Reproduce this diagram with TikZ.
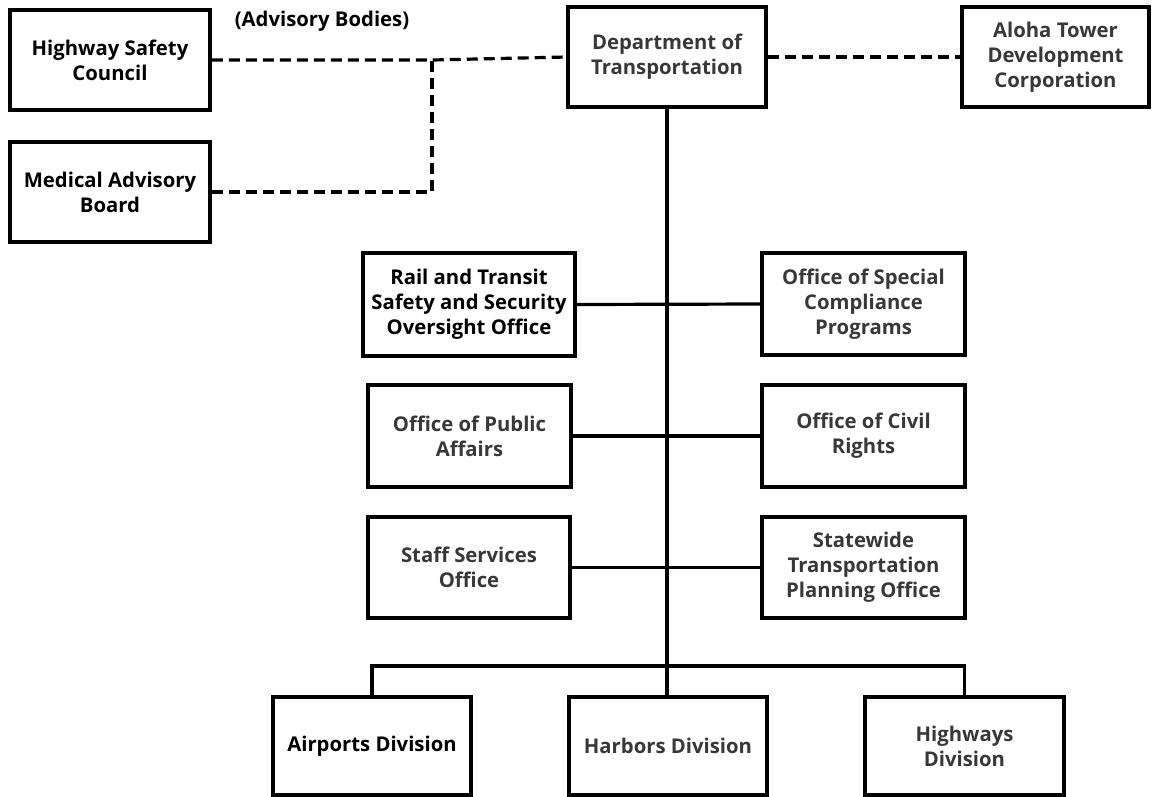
\documentclass[tikz,border=0pt]{standalone}
\usepackage{fontspec}
\setmainfont{Open Sans}
\begin{document}
\begin{tikzpicture}[x=1pt,y=-1pt,
  box/.style={draw=black, line width=3.5pt, rectangle, inner sep=0pt, align=center,
    font=\fontsize{20.3}{25}\selectfont\bfseries, text=black},
  greytext/.style={text=black!78},
  conn/.style={line width=3.2pt},
  dashconn/.style={line width=3.2pt, dash pattern=on 11pt off 6pt}]
\useasboundingbox (0,0) rectangle (1153,796);
\fill[white] (0,0) rectangle (1153,796);
% top row
\node[box, minimum width=200pt, minimum height=100pt] (hsc) at (110,60) {Highway Safety\\Council};
\node[box, minimum width=200pt, minimum height=100pt] (mab) at (110,192) {Medical Advisory\\Board};
\node[font=\fontsize{20.3}{25}\selectfont\bfseries, text=black] (adv) at (322,21) {(Advisory Bodies)};
\node[box, greytext, minimum width=198pt, minimum height=100pt] (dot) at (667,57) {Department of\\Transportation};
\node[box, greytext, minimum width=187pt, minimum height=100pt] (aloha) at (1055.5,57) {Aloha Tower\\Development\\Corporation};
% middle offices
\node[box, minimum width=212pt, minimum height=103pt] (rail) at (469,304.5) {Rail and Transit\\Safety and Security\\Oversight Office};
\node[box, greytext, minimum width=203pt, minimum height=102pt] (oscp) at (863.5,304) {Office of Special\\Compliance\\Programs};
\node[box, greytext, minimum width=203pt, minimum height=102pt] (opa) at (469.5,436) {Office of Public\\Affairs};
\node[box, greytext, minimum width=203pt, minimum height=102pt] (ocr) at (863.5,436) {Office of Civil\\Rights};
\node[box, greytext, minimum width=202pt, minimum height=101pt] (sso) at (469,567.5) {Staff Services\\Office};
\node[box, greytext, minimum width=203pt, minimum height=101pt] (stpo) at (863.5,567.5) {Statewide\\Transportation\\Planning Office};
% divisions
\node[box, minimum width=198pt, minimum height=98pt] (air) at (372,746) {Airports Division};
\node[box, greytext, minimum width=198pt, minimum height=98pt] (harb) at (668,746) {Harbors Division};
\node[box, greytext, minimum width=199pt, minimum height=98pt] (hwy) at (964.5,746) {Highways\\Division};
% connectors
\coordinate (j) at (432,60);
\draw[dashconn] (hsc.east) -- (j) -- (dot.west);
\draw[dashconn] (mab.east) -| (j);
\draw[dashconn] (dot.east) -- (aloha.west);
\draw[conn] (dot.south) -- (dot.south |- harb.north);
\draw[conn] (rail.east) -- (oscp.west);
\draw[conn] (opa.east) -- (ocr.west);
\draw[conn] (sso.east) -- (stpo.west);
\coordinate (bus) at (667,666);
\draw[conn] (air.north) |- (bus) -| (hwy.north);
\end{tikzpicture}
\end{document}
